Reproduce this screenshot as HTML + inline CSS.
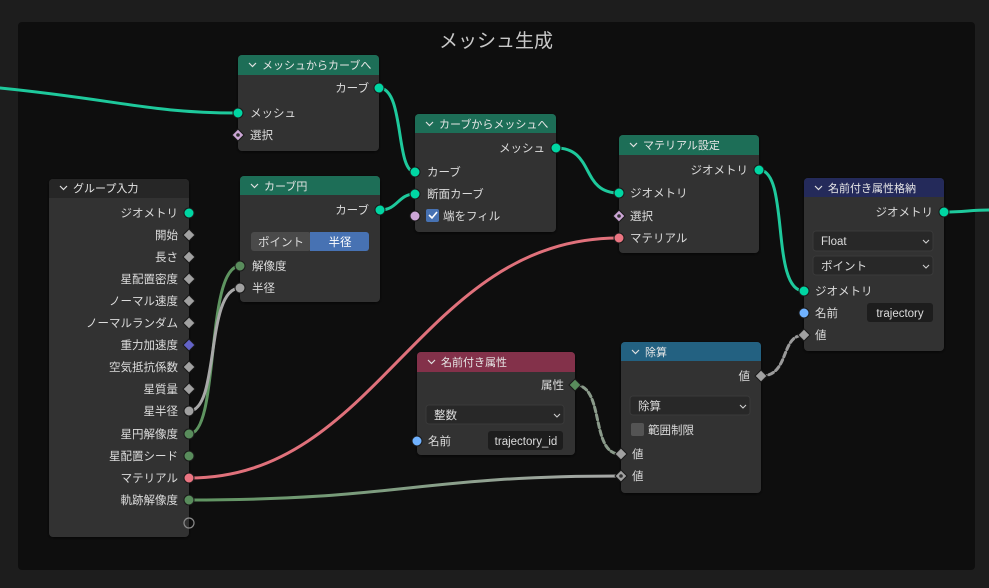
<!DOCTYPE html>
<html><head><meta charset="utf-8"><style>
html,body{margin:0;padding:0;background:#1d1d1d;width:989px;height:588px;overflow:hidden}
svg{display:block}
text{font-family:"Liberation Sans","Noto Sans CJK JP",sans-serif;font-size:11.5px;fill:#dcdcdc}
.r{text-anchor:end}
.h{fill:#e6e6e6;font-size:11px}
.cv{fill:none;stroke:#e0e0e0;stroke-width:1.2}
.dd{fill:none;stroke:#cfcfcf;stroke-width:1.1}
</style></head><body>
<svg width="989" height="588" viewBox="0 0 989 588">
<defs>
<filter id="sh" x="-10%" y="-10%" width="120%" height="120%"><feDropShadow dx="0" dy="1" stdDeviation="1.5" flood-color="#000" flood-opacity="0.6"/></filter>
<linearGradient id="gg" x1="0" x2="1"><stop offset="0" stop-color="#5e9460"/><stop offset="1" stop-color="#a8a8a8"/></linearGradient>
</defs>
<rect width="989" height="588" fill="#1d1d1d"/>
<rect x="18" y="22" width="957" height="548" rx="4" fill="#0e0e0e"/>
<text x="496" y="47" style="font-size:19px;text-anchor:middle;fill:#c8c8c8">メッシュ生成</text>

<g fill="none" stroke-width="3" stroke-linecap="round">
<path d="M0,88 C120,100 150,113 238,113" stroke="#1ec99c"/>
<path d="M379,88 C405,88 395,172 415,172" stroke="#1ec99c"/>
<path d="M380,210 C398,210 398,194 415,194" stroke="#1ec99c"/>
<path d="M556,148 C595,148 580,193 619,193" stroke="#1ec99c"/>
<path d="M759,170 C790,170 770,291 804,291" stroke="#1ec99c"/>
<path d="M944,212 C965,212 970,210 989,210" stroke="#1ec99c"/>
<path d="M189,478 C380,478 420,238 619,238" stroke="#e0717b"/>
<path d="M189,500 C400,500 420,476 620,476" stroke="url(#gg)"/>
<path d="M189,434 C220,434 205,266 240,266" stroke="#5e9460"/>
<path d="M189,411 C220,411 205,288 240,288" stroke="#a8a8a8"/>
<path d="M575,385 C605,385 590,454 620,454" stroke="#8a9a8a" stroke-dasharray="5,3"/>
<path d="M761,376 C790,376 780,335 804,335" stroke="#9a9a9a" stroke-dasharray="5,3"/>
</g>

<!-- メッシュからカーブへ -->
<g filter="url(#sh)"><rect x="238" y="55" width="141" height="96" rx="4" fill="#303030"/></g>
<path d="M242,55 H375 A4,4 0 0 1 379,59 V75 H238 V59 A4,4 0 0 1 242,55Z" fill="#1d6e57"/>
<path class="cv" d="M249,63 l3.5,3.5 l3.5,-3.5"/>
<text x="262" y="69" class="h">メッシュからカーブへ</text>
<text x="369" y="92" class="r">カーブ</text>
<text x="250" y="117">メッシュ</text>
<text x="250" y="139">選択</text>

<!-- カーブ円 -->
<g filter="url(#sh)"><rect x="240" y="176" width="140" height="126" rx="4" fill="#303030"/></g>
<path d="M244,176 H376 A4,4 0 0 1 380,180 V195 H240 V180 A4,4 0 0 1 244,176Z" fill="#1d6e57"/>
<path class="cv" d="M251,184 l3.5,3.5 l3.5,-3.5"/>
<text x="264" y="190" class="h">カーブ円</text>
<text x="369" y="214" class="r">カーブ</text>
<rect x="251" y="232" width="60" height="19" rx="3" fill="#4a4a4a"/>
<rect x="310" y="232" width="59" height="19" rx="3" fill="#4772b3"/>
<rect x="310" y="232" width="4" height="19" fill="#4772b3"/>
<text x="281" y="246" style="text-anchor:middle">ポイント</text>
<text x="340" y="246" style="text-anchor:middle;fill:#fff">半径</text>
<text x="252" y="270">解像度</text>
<text x="252" y="292">半径</text>

<!-- カーブからメッシュへ -->
<g filter="url(#sh)"><rect x="415" y="114" width="141" height="118" rx="4" fill="#303030"/></g>
<path d="M419,114 H552 A4,4 0 0 1 556,118 V133 H415 V118 A4,4 0 0 1 419,114Z" fill="#1d6e57"/>
<path class="cv" d="M426,122 l3.5,3.5 l3.5,-3.5"/>
<text x="439" y="128" class="h">カーブからメッシュへ</text>
<text x="545" y="152" class="r">メッシュ</text>
<text x="427" y="176">カーブ</text>
<text x="427" y="198">断面カーブ</text>
<rect x="426" y="209" width="13" height="13" rx="2" fill="#4772b3"/>
<path d="M429,215 l3,3 l5,-6" stroke="#fff" stroke-width="1.6" fill="none"/>
<text x="443" y="220">端をフィル</text>

<!-- マテリアル設定 -->
<g filter="url(#sh)"><rect x="619" y="135" width="140" height="118" rx="4" fill="#303030"/></g>
<path d="M623,135 H755 A4,4 0 0 1 759,139 V155 H619 V139 A4,4 0 0 1 623,135Z" fill="#1d6e57"/>
<path class="cv" d="M630,143 l3.5,3.5 l3.5,-3.5"/>
<text x="643" y="149" class="h">マテリアル設定</text>
<text x="748" y="174" class="r">ジオメトリ</text>
<text x="630" y="197">ジオメトリ</text>
<text x="630" y="220">選択</text>
<text x="630" y="242">マテリアル</text>

<!-- 名前付き属性格納 -->
<g filter="url(#sh)"><rect x="804" y="178" width="140" height="173" rx="4" fill="#303030"/></g>
<path d="M808,178 H940 A4,4 0 0 1 944,182 V197 H804 V182 A4,4 0 0 1 808,178Z" fill="#242a5a"/>
<path class="cv" d="M815,186 l3.5,3.5 l3.5,-3.5"/>
<text x="828" y="192" class="h">名前付き属性格納</text>
<text x="933" y="216" class="r">ジオメトリ</text>
<rect x="813" y="231" width="120" height="20" rx="3" fill="#282828" stroke="#3a3a3a"/>
<text x="821" y="245">Float</text><path class="dd" d="M923,240 l3,3 l3,-3"/>
<rect x="813" y="256" width="120" height="19" rx="3" fill="#282828" stroke="#3a3a3a"/>
<text x="821" y="270">ポイント</text><path class="dd" d="M923,265 l3,3 l3,-3"/>
<text x="815" y="295">ジオメトリ</text>
<text x="815" y="317">名前</text>
<rect x="867" y="303" width="66" height="19" rx="3" fill="#1d1d1d"/>
<text x="900" y="317" style="text-anchor:middle">trajectory</text>
<text x="815" y="339">値</text>

<!-- 除算 -->
<g filter="url(#sh)"><rect x="621" y="342" width="140" height="151" rx="4" fill="#303030"/></g>
<path d="M625,342 H757 A4,4 0 0 1 761,346 V361 H621 V346 A4,4 0 0 1 625,342Z" fill="#236181"/>
<path class="cv" d="M632,350 l3.5,3.5 l3.5,-3.5"/>
<text x="645" y="356" class="h">除算</text>
<text x="750" y="380" class="r">値</text>
<rect x="630" y="396" width="120" height="19" rx="3" fill="#282828" stroke="#3a3a3a"/>
<text x="638" y="410">除算</text><path class="dd" d="M740,405 l3,3 l3,-3"/>
<rect x="631" y="423" width="13" height="13" rx="2" fill="#545454"/>
<text x="648" y="434">範囲制限</text>
<text x="632" y="458">値</text>
<text x="632" y="480">値</text>

<!-- 名前付き属性 -->
<g filter="url(#sh)"><rect x="417" y="352" width="158" height="103" rx="4" fill="#303030"/></g>
<path d="M421,352 H571 A4,4 0 0 1 575,356 V372 H417 V356 A4,4 0 0 1 421,352Z" fill="#83314a"/>
<path class="cv" d="M428,360 l3.5,3.5 l3.5,-3.5"/>
<text x="441" y="366" class="h">名前付き属性</text>
<text x="564" y="389" class="r">属性</text>
<rect x="426" y="405" width="138" height="19" rx="3" fill="#282828" stroke="#3a3a3a"/>
<text x="434" y="419">整数</text><path class="dd" d="M554,414 l3,3 l3,-3"/>
<text x="428" y="445">名前</text>
<rect x="488" y="431" width="75" height="19" rx="3" fill="#1d1d1d"/>
<text x="526" y="445" style="text-anchor:middle">trajectory_id</text>

<!-- グループ入力 -->
<g filter="url(#sh)"><rect x="49" y="179" width="140" height="358" rx="4" fill="#303030"/></g>
<path d="M53,179 H185 A4,4 0 0 1 189,183 V198 H49 V183 A4,4 0 0 1 53,179Z" fill="#262626"/>
<path class="cv" d="M60,186 l3.5,3.5 l3.5,-3.5"/>
<text x="73" y="192" class="h">グループ入力</text>
<text x="178" y="217" class="r">ジオメトリ</text>
<text x="178" y="239" class="r">開始</text>
<text x="178" y="261" class="r">長さ</text>
<text x="178" y="283" class="r">星配置密度</text>
<text x="178" y="305" class="r">ノーマル速度</text>
<text x="178" y="327" class="r">ノーマルランダム</text>
<text x="178" y="349" class="r">重力加速度</text>
<text x="178" y="371" class="r">空気抵抗係数</text>
<text x="178" y="393" class="r">星質量</text>
<text x="178" y="415" class="r">星半径</text>
<text x="178" y="438" class="r">星円解像度</text>
<text x="178" y="460" class="r">星配置シード</text>
<text x="178" y="482" class="r">マテリアル</text>
<text x="178" y="504" class="r">軌跡解像度</text>

<!-- sockets -->
<g stroke="#1a1a1a" stroke-width="1">
<circle cx="379" cy="88" r="5" fill="#00d6a3"/>
<circle cx="238" cy="113" r="5" fill="#00d6a3"/>
<circle cx="380" cy="210" r="5" fill="#00d6a3"/>
<circle cx="240" cy="266" r="5" fill="#598c5c"/>
<circle cx="240" cy="288" r="5" fill="#a1a1a1"/>
<circle cx="556" cy="148" r="5" fill="#00d6a3"/>
<circle cx="415" cy="172" r="5" fill="#00d6a3"/>
<circle cx="415" cy="194" r="5" fill="#00d6a3"/>
<circle cx="415" cy="216" r="5" fill="#cca6d6"/>
<circle cx="759" cy="170" r="5" fill="#00d6a3"/>
<circle cx="619" cy="193" r="5" fill="#00d6a3"/>
<circle cx="619" cy="238" r="5" fill="#eb7582"/>
<circle cx="944" cy="212" r="5" fill="#00d6a3"/>
<circle cx="804" cy="291" r="5" fill="#00d6a3"/>
<circle cx="804" cy="313" r="5" fill="#70b2ff"/>
<circle cx="417" cy="441" r="5" fill="#70b2ff"/>
<circle cx="189" cy="213" r="5" fill="#00d6a3"/>
<circle cx="189" cy="411" r="5" fill="#a1a1a1"/>
<circle cx="189" cy="434" r="5" fill="#598c5c"/>
<circle cx="189" cy="456" r="5" fill="#598c5c"/>
<circle cx="189" cy="478" r="5" fill="#eb7582"/>
<circle cx="189" cy="500" r="5" fill="#598c5c"/>
<circle cx="189" cy="523" r="5" fill="none" stroke="#8a8a8a" stroke-width="1.2"/>
</g>
<g stroke="#1a1a1a" stroke-width="1">
<path d="M238,129 l6,6 l-6,6 l-6,-6z" fill="#cca6d6"/>
<path d="M619,210 l6,6 l-6,6 l-6,-6z" fill="#cca6d6"/>
<path d="M575,379 l6,6 l-6,6 l-6,-6z" fill="#598c5c"/>
<path d="M761,370 l6,6 l-6,6 l-6,-6z" fill="#a1a1a1"/>
<path d="M804,329 l6,6 l-6,6 l-6,-6z" fill="#a1a1a1"/>
<path d="M621,448 l6,6 l-6,6 l-6,-6z" fill="#a1a1a1"/>
<path d="M621,470 l6,6 l-6,6 l-6,-6z" fill="#a1a1a1"/>
<path d="M189,229 l6,6 l-6,6 l-6,-6z" fill="#a1a1a1"/>
<path d="M189,251 l6,6 l-6,6 l-6,-6z" fill="#a1a1a1"/>
<path d="M189,273 l6,6 l-6,6 l-6,-6z" fill="#a1a1a1"/>
<path d="M189,295 l6,6 l-6,6 l-6,-6z" fill="#a1a1a1"/>
<path d="M189,317 l6,6 l-6,6 l-6,-6z" fill="#a1a1a1"/>
<path d="M189,339 l6,6 l-6,6 l-6,-6z" fill="#6363c7"/>
<path d="M189,361 l6,6 l-6,6 l-6,-6z" fill="#a1a1a1"/>
<path d="M189,383 l6,6 l-6,6 l-6,-6z" fill="#a1a1a1"/>
</g>
<g fill="#303030"><circle cx="238" cy="135" r="1.8"/><circle cx="619" cy="216" r="1.8"/><circle cx="621" cy="476" r="1.8"/></g>
</svg>
</body></html>
